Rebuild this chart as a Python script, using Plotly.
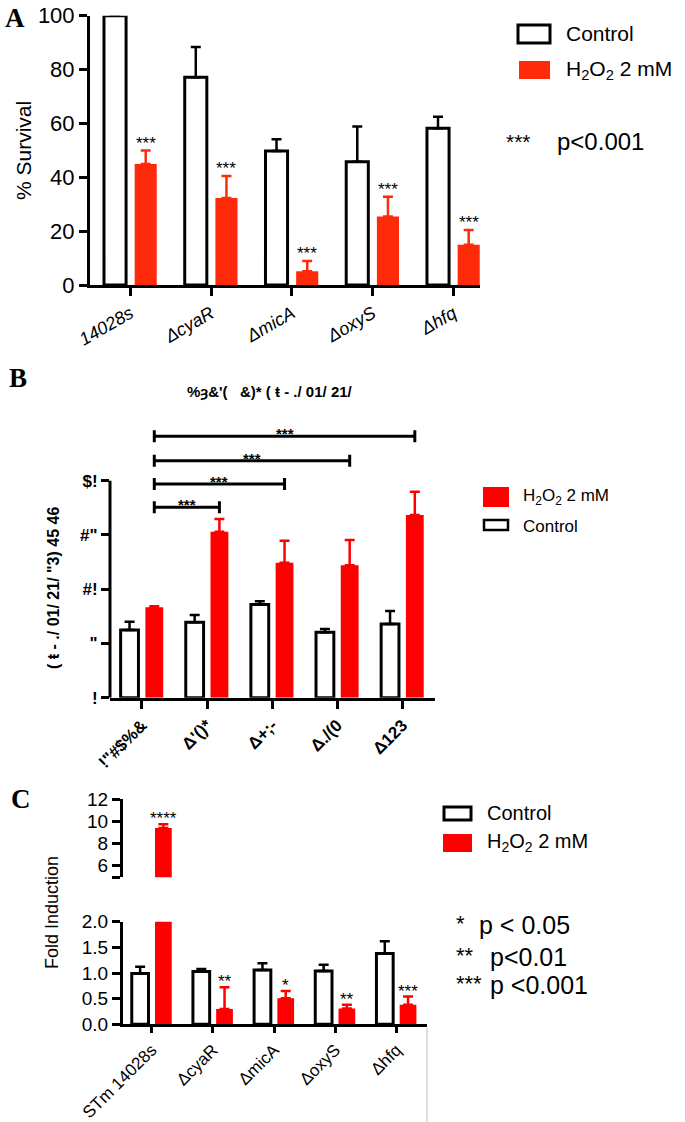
import plotly.graph_objects as go

W, H = 685, 1122
def fx(p): return p / W
def fy(p): return 1 - p / H

FONT = "Arial, Liberation Sans, sans-serif"
SERIF = "Times New Roman, Liberation Serif, serif"
RED_A = "#ff2a0a"
RED = "#ff0000"

# ---------------- Panel A data ----------------
a_cats = ["14028s", "ΔcyaR", "ΔmicA", "ΔoxyS", "Δhfq"]
a_ctrl = [100, 77.1, 49.8, 45.8, 58.2]
a_ctrl_err = [0, 11.3, 4.3, 13.1, 4.3]
a_h2o2 = [44.9, 32.3, 5.1, 25.4, 14.9]
a_h2o2_err = [5.0, 8.2, 3.8, 7.4, 5.5]
a_stars = ["***", "***", "***", "***", "***"]
a_yticks = [0, 20, 40, 60, 80, 100]

# ---------------- Panel B data ----------------
b_cats = ['!"#$%&', "Δ'()*", "Δ+;-", "Δ./(0", "Δ123"]
b_ctrl = [6.24, 6.95, 8.6, 6.03, 6.8]
b_ctrl_err = [0.76, 0.67, 0.3, 0.3, 1.2]
b_h2o2 = [8.33, 15.3, 12.45, 12.2, 16.84]
b_h2o2_err = [0.1, 1.17, 2.02, 2.33, 2.15]
b_ytickvals = [0, 5, 10, 15, 20]
b_yticktext = ["!", '"', "#!", '#"', "$!"]
b_bracket_to = [1, 2, 3, 4]
b_bracket_y = [17.55, 19.7, 21.85, 24.1]
b_title = "%ȝ&'(   &)* ( ŧ - ./ 01/ 21/"
b_ytitle = "( ŧ - ./ 01/ 21/ \"3) 45 46"

# ---------------- Panel C data ----------------
c_cats = ["STm 14028s", "ΔcyaR", "ΔmicA", "ΔoxyS", "Δhfq"]
c_ctrl = [0.99, 1.03, 1.06, 1.04, 1.38]
c_ctrl_err = [0.13, 0.05, 0.13, 0.12, 0.24]
c_h2o2 = [9.36, 0.30, 0.51, 0.31, 0.38]
c_h2o2_err = [0.34, 0.42, 0.14, 0.07, 0.16]
c_stars = ["****", "**", "*", "**", "***"]
c_low_ticks = [0, 0.5, 1.0, 1.5, 2.0]
c_high_ticks = [4.9, 6, 8, 10, 12]
c_high_text = ["", "6", "8", "10", "12"]

BARGAP = 0.24
RED_OFF = (1 - BARGAP) / 4

fig = go.Figure()

def add_pair(cats, ctrl, ctrl_err, trt, trt_err, xa, ya, red, clip=True):
    fig.add_trace(go.Bar(
        x=cats, y=ctrl, name="Control", xaxis=xa, yaxis=ya, showlegend=False,
        marker=dict(color="white", line=dict(color="black", width=3)),
        error_y=dict(type="data", array=ctrl_err, arrayminus=[0] * len(ctrl),
                     symmetric=False, color="black", thickness=2.5, width=5),
        cliponaxis=clip, hoverinfo="skip"))
    fig.add_trace(go.Bar(
        x=cats, y=trt, name="H2O2 2 mM", xaxis=xa, yaxis=ya, showlegend=False,
        marker=dict(color=red, line=dict(width=0)),
        error_y=dict(type="data", array=trt_err, arrayminus=[0] * len(trt),
                     symmetric=False, color=red, thickness=2.5, width=5),
        cliponaxis=clip, hoverinfo="skip"))

add_pair(a_cats, a_ctrl, a_ctrl_err, a_h2o2, a_h2o2_err, "x", "y", RED_A, clip=False)
add_pair(b_cats, b_ctrl, b_ctrl_err, b_h2o2, b_h2o2_err, "x2", "y2", RED)
add_pair(c_cats, c_ctrl, c_ctrl_err, c_h2o2, c_h2o2_err, "x3", "y3", RED)
add_pair(c_cats, c_ctrl, c_ctrl_err, c_h2o2, c_h2o2_err, "x4", "y4", RED)

ax_common = dict(showline=True, linewidth=3, linecolor="black", ticks="outside",
                 tickwidth=3, tickcolor="black", showgrid=False, zeroline=False,
                 automargin=False)

fig.update_layout(
    width=W, height=H, autosize=False,
    margin=dict(l=0, r=0, t=0, b=0),
    paper_bgcolor="white", plot_bgcolor="white",
    barmode="group", bargap=BARGAP, bargroupgap=0.28,
    font=dict(family=FONT, color="black"),
    showlegend=False,
    xaxis=dict(**ax_common, domain=[fx(90), fx(480)], anchor="y", type="category",
               range=[-0.5, 4.33], ticklen=8, tickangle=-30,
               tickfont=dict(size=18, style="italic", family=FONT)),
    yaxis=dict(**ax_common, domain=[fy(285), fy(15.7)], anchor="x", range=[0, 100],
               tickvals=a_yticks, ticklen=8, tickfont=dict(size=22, family=FONT)),
    xaxis2=dict(**ax_common, domain=[fx(110), fx(435)], anchor="y2", type="category",
                range=[-0.49, 4.5], ticklen=8, tickangle=-45,
                tickfont=dict(size=17, weight="bold", family=FONT)),
    yaxis2=dict(**{**ax_common, "showline": False}, domain=[fy(697.7), fy(426.5)],
                anchor="x2", range=[0, 25], tickvals=b_ytickvals, ticktext=b_yticktext,
                ticklen=8, tickfont=dict(size=17, weight="bold", family=FONT)),
    xaxis3=dict(**ax_common, domain=[fx(123), fx(427)], anchor="y3", type="category",
                range=[-0.47, 4.5], ticklen=6, tickangle=-45,
                tickfont=dict(size=17, family=FONT)),
    yaxis3=dict(**ax_common, domain=[fy(1024.3), fy(921.7)], anchor="x3", range=[0, 2],
                tickvals=c_low_ticks, tickformat=".1f", ticklen=8,
                tickfont=dict(size=19, family=FONT)),
    xaxis4=dict(domain=[fx(123), fx(427)], anchor="y4", matches="x3", visible=False,
                type="category", range=[-0.47, 4.5]),
    yaxis4=dict(**ax_common, domain=[fy(877.3), fy(799)], anchor="x4", range=[4.9, 12],
                tickvals=c_high_ticks, ticktext=c_high_text, ticklen=8,
                tickfont=dict(size=19, family=FONT)),
)

ann = []
shapes = []

def txt(x, y, s, size, xanchor="center", yanchor="middle", angle=0, family=FONT,
        bold=False, xref="paper", yref="paper", yshift=0, color="black"):
    ann.append(dict(x=x, y=y, xref=xref, yref=yref, text=s, showarrow=False,
                    xanchor=xanchor, yanchor=yanchor, textangle=angle, yshift=yshift,
                    font=dict(size=size, family=family, color=color,
                              weight="bold" if bold else "normal")))

# panel letters
txt(fx(15), fy(18), "A", 27, family=SERIF, bold=True)
txt(fx(18), fy(378), "B", 27, family=SERIF, bold=True)
txt(fx(21), fy(799), "C", 27, family=SERIF, bold=True)

# ----- Panel A annotations -----
txt(fx(24), fy(151), "% Survival", 21, angle=-90)
for i, s in enumerate(a_stars):
    txt(i + RED_OFF, a_h2o2[i] + a_h2o2_err[i], s, 17, xref="x", yref="y",
        yanchor="bottom", yshift=-4)
# legend A
shapes.append(dict(type="rect", xref="paper", yref="paper", x0=fx(518), x1=fx(550),
                   y0=fy(25), y1=fy(43), line=dict(color="black", width=3),
                   fillcolor="white"))
shapes.append(dict(type="rect", xref="paper", yref="paper", x0=fx(519), x1=fx(550),
                   y0=fy(61), y1=fy(79), line=dict(width=0), fillcolor=RED_A))
txt(fx(564), fy(34), "Control", 21, xanchor="left")
txt(fx(564), fy(70), "H<sub>2</sub>O<sub>2</sub> 2 mM", 21, xanchor="left")
txt(fx(504), fy(141), "***", 21, xanchor="left")
txt(fx(555), fy(141), "p<0.001", 24, xanchor="left")

# ----- Panel B annotations -----
txt(fx(270), fy(392), b_title, 15, bold=True)
txt(fx(53), fy(588), b_ytitle, 16, bold=True, angle=-90)
shapes.append(dict(type="line", xref="paper", yref="y2", x0=fx(110), x1=fx(110),
                   y0=0, y1=b_ytickvals[-1], line=dict(color="black", width=3)))
for k, yb in zip(b_bracket_to, b_bracket_y):
    x0 = RED_OFF
    x1 = k + RED_OFF
    shapes.append(dict(type="line", xref="x2", yref="y2", x0=x0, x1=x1, y0=yb, y1=yb,
                       line=dict(color="black", width=3)))
    for xe in (x0, x1):
        shapes.append(dict(type="line", xref="x2", yref="y2", x0=xe, x1=xe,
                           y0=yb - 0.55, y1=yb + 0.55, line=dict(color="black", width=3)))
    txt((x0 + x1) / 2, yb, "***", 15, bold=True, xref="x2", yref="y2",
        yanchor="bottom", yshift=-8)
# legend B
shapes.append(dict(type="rect", xref="paper", yref="paper", x0=fx(483), x1=fx(509),
                   y0=fy(487), y1=fy(507), line=dict(width=0), fillcolor=RED))
shapes.append(dict(type="rect", xref="paper", yref="paper", x0=fx(484), x1=fx(508),
                   y0=fy(520), y1=fy(530), line=dict(color="black", width=2.5),
                   fillcolor="white"))
txt(fx(521), fy(497), "H<sub>2</sub>O<sub>2</sub> 2 mM", 17, xanchor="left")
txt(fx(521), fy(526), "Control", 17, xanchor="left")

# ----- Panel C annotations -----
txt(fx(52), fy(913), "Fold Induction", 18, angle=-90)
for i, s in enumerate(c_stars):
    top = c_h2o2[i] + c_h2o2_err[i]
    yr = "y4" if top > 2 else "y3"
    txt(i + RED_OFF, top, s, 17, xref="x3" if yr == "y3" else "x4", yref=yr,
        yanchor="bottom", yshift=-6)
# legend C
shapes.append(dict(type="rect", xref="paper", yref="paper", x0=fx(444), x1=fx(471),
                   y0=fy(807), y1=fy(820), line=dict(color="black", width=3),
                   fillcolor="white"))
shapes.append(dict(type="rect", xref="paper", yref="paper", x0=fx(443), x1=fx(472),
                   y0=fy(834), y1=fy(852), line=dict(width=0), fillcolor=RED))
txt(fx(485), fy(813), "Control", 20, xanchor="left")
txt(fx(485), fy(842), "H<sub>2</sub>O<sub>2</sub> 2 mM", 20, xanchor="left")
txt(fx(454), fy(923), "*", 22, xanchor="left")
txt(fx(477), fy(925), "p < 0.05", 25, xanchor="left")
txt(fx(454), fy(955), "**", 22, xanchor="left")
txt(fx(488), fy(957), "p<0.01", 25, xanchor="left")
txt(fx(454), fy(983), "***", 22, xanchor="left")
txt(fx(488), fy(985), "p <0.001", 25, xanchor="left")

# faint scan artefact line
shapes.append(dict(type="line", xref="paper", yref="paper", x0=fx(427), x1=fx(427),
                   y0=fy(1028), y1=fy(1122), line=dict(color="#d4d4d4", width=1.5)))

fig.update_layout(annotations=ann, shapes=shapes)
fig.write_html("out.html", config={"displayModeBar": False, "staticPlot": True},
               post_script="document.body.style.margin='0';document.body.style.overflow='hidden';")
